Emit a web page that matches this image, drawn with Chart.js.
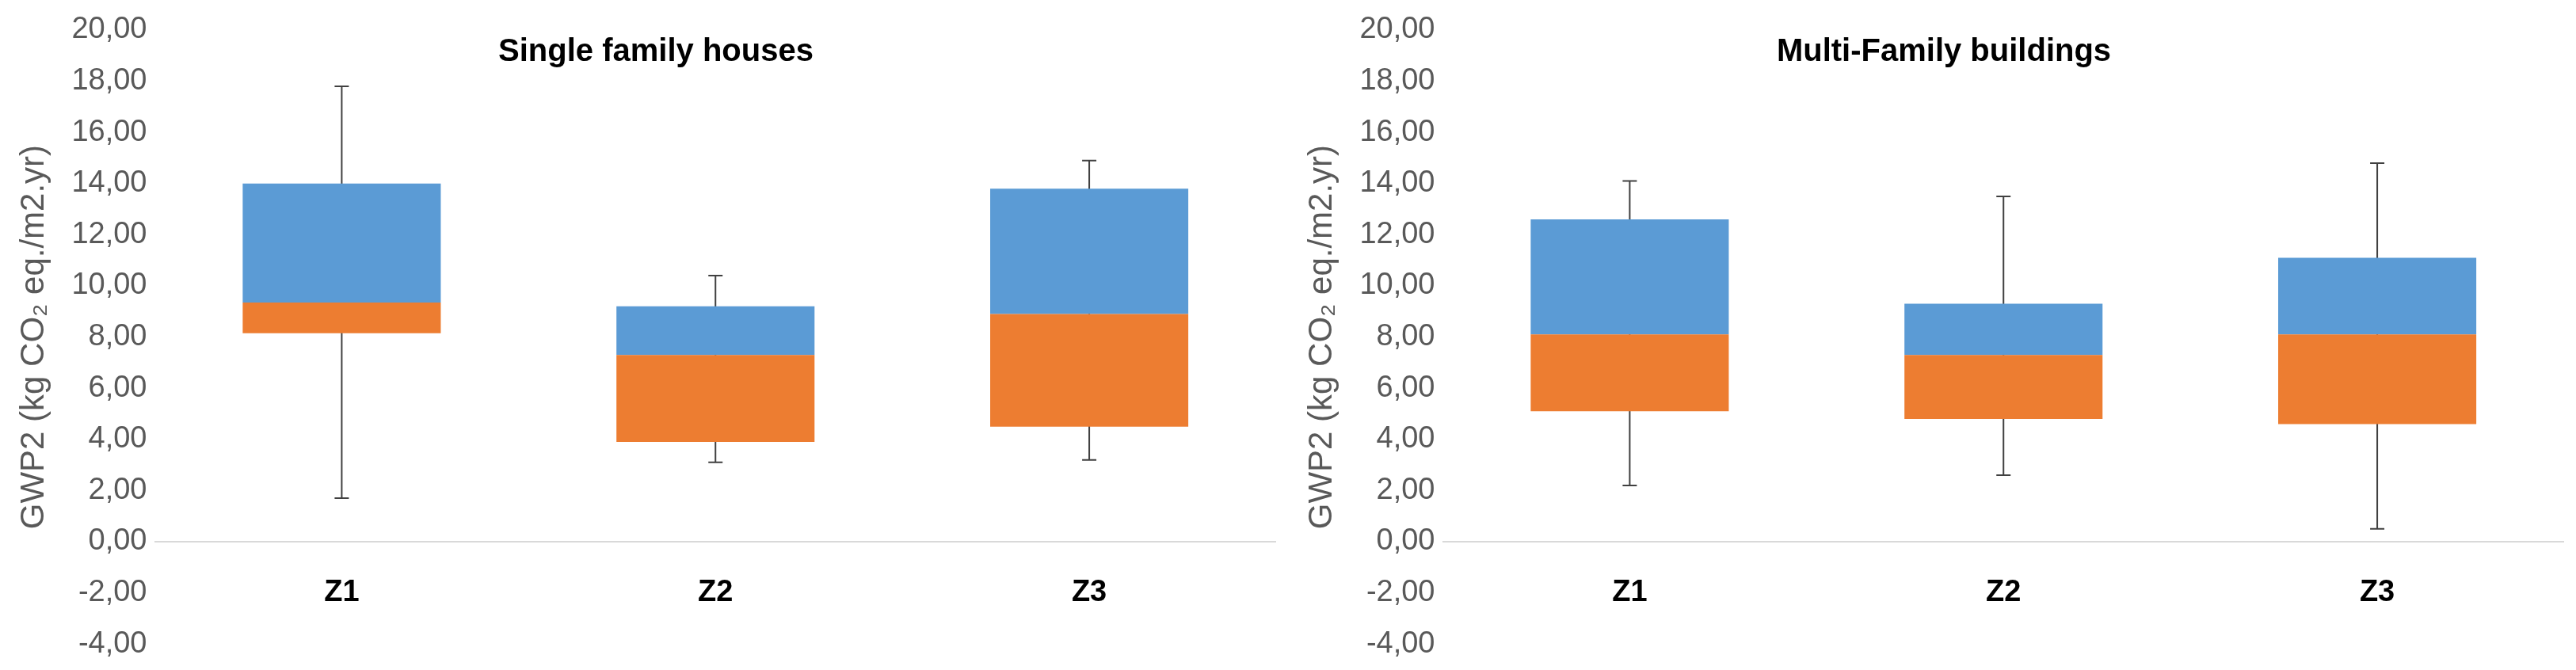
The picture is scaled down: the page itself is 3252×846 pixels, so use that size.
<!DOCTYPE html>
<html>
<head>
<meta charset="utf-8">
<script src="https://cdn.jsdelivr.net/npm/chart.js@4"></script>
<style>
  body { margin: 0; background: #fff; }
  .wrap { display: flex; width: 3252px; height: 846px; }
  .box { width: 1626px; height: 846px; position: relative; }
</style>
</head>
<body>
<div class="wrap">
  <div class="box"><canvas id="left"></canvas></div>
  <div class="box"><canvas id="right"></canvas></div>
</div>
<script>
const zones = ["Z1", "Z2", "Z3"];
// Single family houses
const sfhMin = [1.7, 3.1, 3.2];
const sfhQ1 = [8.15, 3.9, 4.5];
const sfhMedian = [9.35, 7.3, 8.9];
const sfhQ3 = [14.0, 9.2, 13.8];
const sfhMax = [17.8, 10.4, 14.9];
// Multi-family buildings
const mfbMin = [2.2, 2.6, 0.5];
const mfbQ1 = [5.1, 4.8, 4.6];
const mfbMedian = [8.1, 7.3, 8.1];
const mfbQ3 = [12.6, 9.3, 11.1];
const mfbMax = [14.1, 13.5, 14.8];

const tickFont = "'Liberation Sans Narrow', 'Liberation Sans', sans-serif";

function makeChart(id, title, mins, q1, med, q3, maxs) {
  const whiskers = {
    id: 'whiskers',
    beforeDatasetsDraw(chart) {
      const ctx = chart.ctx, x = chart.scales.x, y = chart.scales.y;
      ctx.save();
      ctx.strokeStyle = '#404040';
      ctx.lineWidth = 2;
      zones.forEach((z, i) => {
        const px = x.getPixelForValue(i);
        ctx.beginPath();
        ctx.moveTo(px, y.getPixelForValue(mins[i]));
        ctx.lineTo(px, y.getPixelForValue(maxs[i]));
        [mins[i], maxs[i]].forEach(v => {
          ctx.moveTo(px - 9, y.getPixelForValue(v));
          ctx.lineTo(px + 9, y.getPixelForValue(v));
        });
        ctx.stroke();
      });
      ctx.restore();
    },
    afterDraw(chart) {
      const ctx = chart.ctx, x = chart.scales.x, y = chart.scales.y;
      ctx.save();
      ctx.fillStyle = '#000';
      ctx.textAlign = 'center';
      ctx.textBaseline = 'middle';
      ctx.font = "bold 38px " + tickFont;
      zones.forEach((z, i) => ctx.fillText(z, x.getPixelForValue(i), y.getPixelForValue(-2)));
      ctx.font = "bold 40px " + tickFont;
      ctx.fillText(title, chart.width / 2 + 15, 66);
      ctx.restore();
    }
  };

  new Chart(document.getElementById(id), {
    type: 'bar',
    data: {
      labels: zones,
      datasets: [
        { label: 'lower', data: zones.map((z, i) => [q1[i], med[i]]), backgroundColor: '#ed7d31' },
        { label: 'upper', data: zones.map((z, i) => [med[i], q3[i]]), backgroundColor: '#5b9bd5' }
      ]
    },
    options: {
      responsive: false,
      animation: false,
      devicePixelRatio: 1,
      layout: { padding: { left: 14, right: 15, top: 38, bottom: 15 } },
      plugins: { legend: { display: false }, tooltip: { enabled: false } },
      scales: {
        x: {
          stacked: true,
          ticks: { display: false },
          grid: { display: false },
          border: { display: false }
        },
        y: {
          min: -4, max: 20,
          ticks: {
            stepSize: 2,
            padding: 10,
            color: '#595959',
            font: { family: tickFont, size: 38 },
            callback: v => v.toFixed(2).replace('.', ',')
          },
          grid: {
            drawTicks: false,
            lineWidth: 2,
            color: c => c.tick && c.tick.value === 0 ? '#d9d9d9' : 'rgba(0,0,0,0)'
          },
          border: { display: false },
          title: {
            display: true,
            text: 'GWP2 (kg CO\u2082 eq./m2.yr)',
            color: '#595959',
            font: { family: "'Liberation Sans', sans-serif", size: 42 },
            padding: { bottom: 12 }
          }
        }
      },
      datasets: { bar: { barPercentage: 0.53, categoryPercentage: 1, grouped: false } }
    },
    plugins: [whiskers]
  });
}

document.getElementById('left').width = 1626;
document.getElementById('left').height = 846;
document.getElementById('right').width = 1626;
document.getElementById('right').height = 846;
makeChart('left', 'Single family houses', sfhMin, sfhQ1, sfhMedian, sfhQ3, sfhMax);
makeChart('right', 'Multi-Family buildings', mfbMin, mfbQ1, mfbMedian, mfbQ3, mfbMax);
</script>
</body>
</html>
